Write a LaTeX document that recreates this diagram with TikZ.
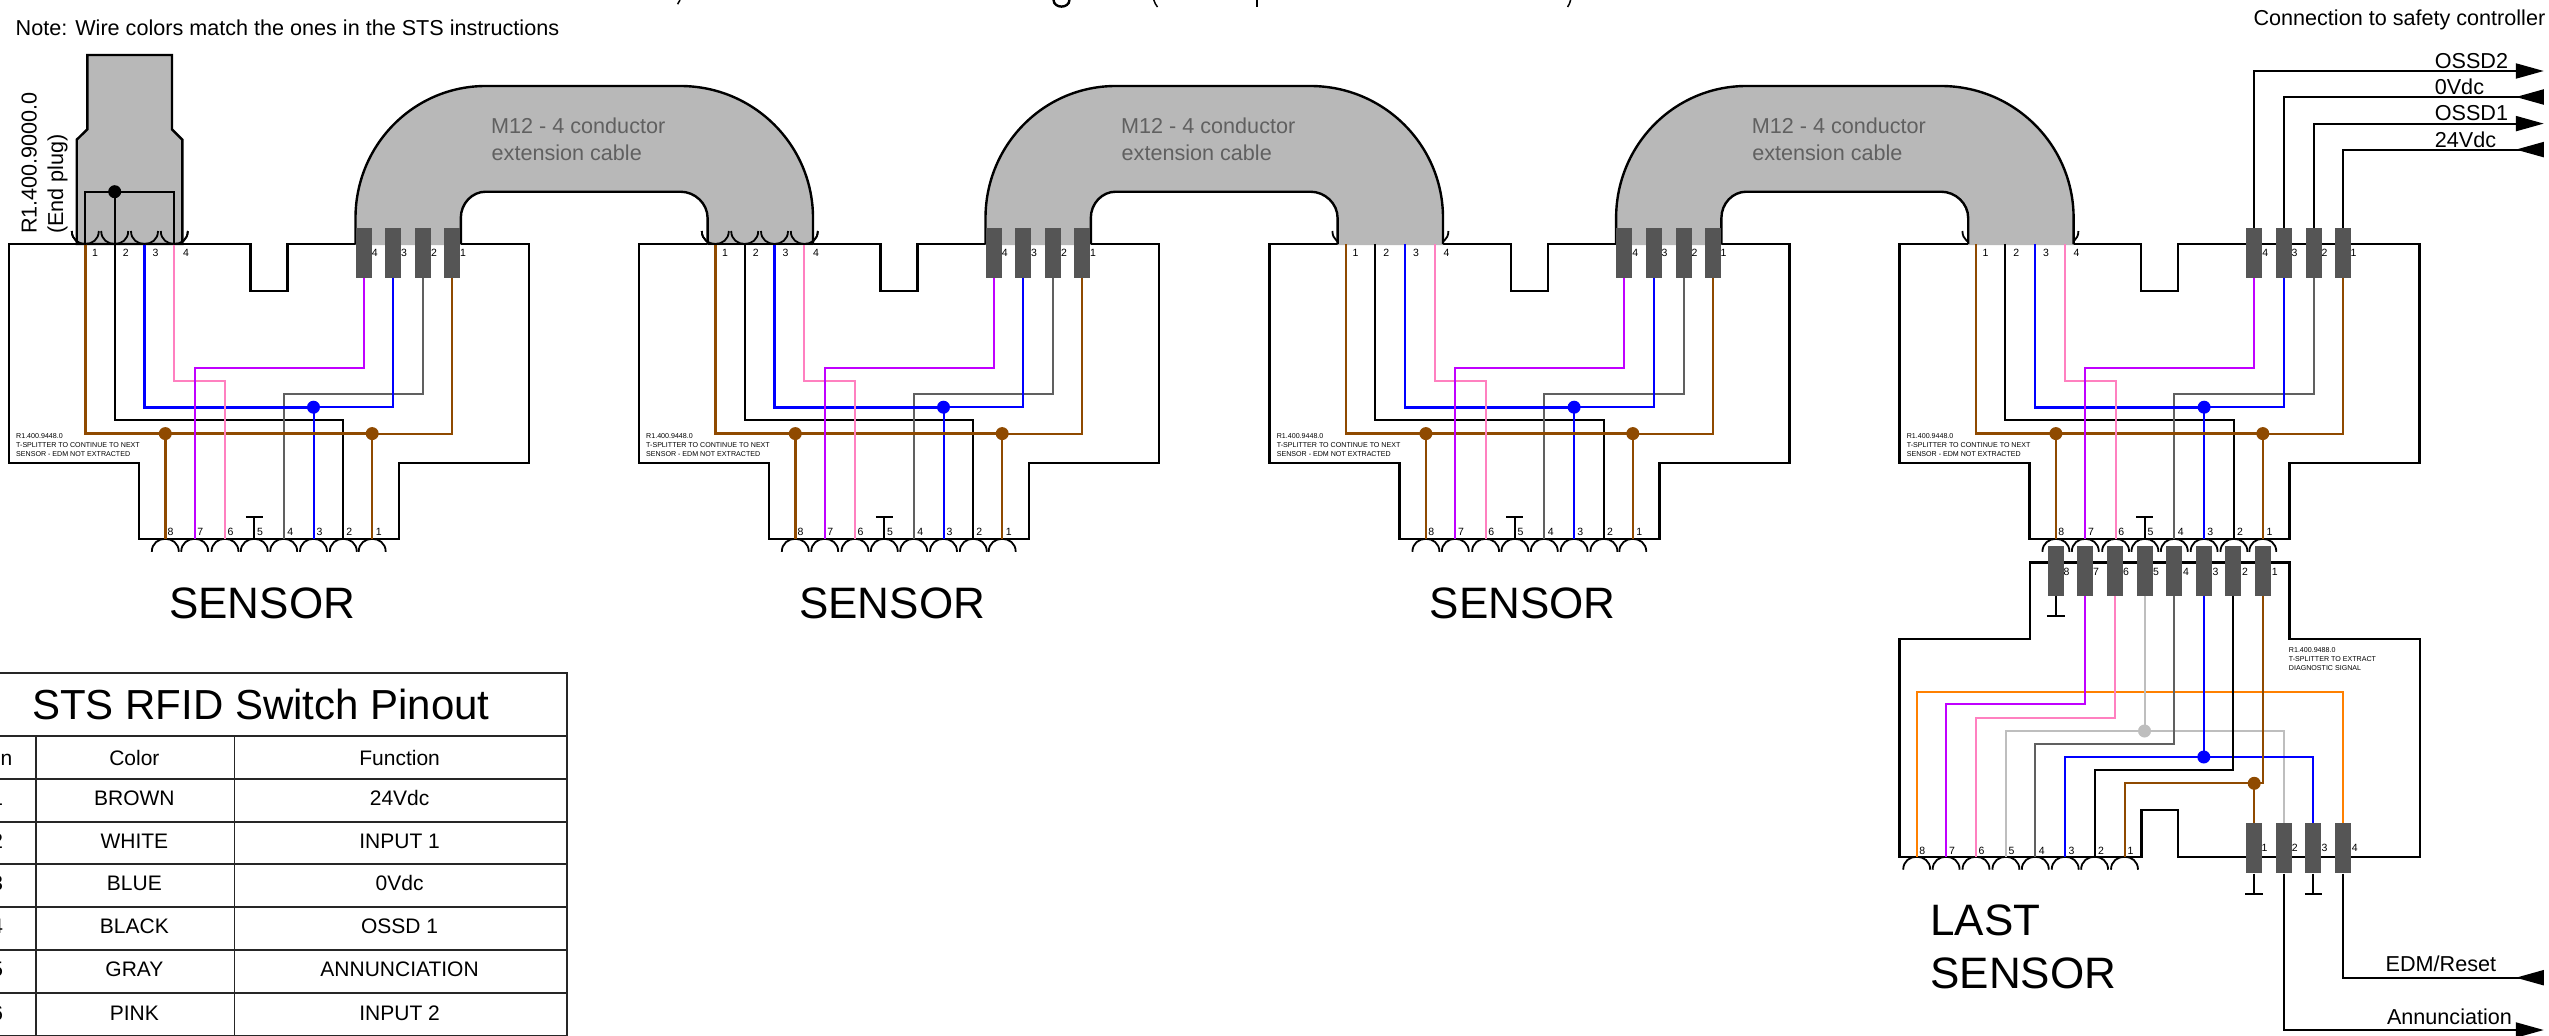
\documentclass[tikz,border=0pt]{standalone}
\usepackage{fontspec}
\setmainfont{Liberation Sans}
\usetikzlibrary{arrows.meta,calc}
\pgfdeclarelayer{bg}
\pgfdeclarelayer{cab}
\pgfsetlayers{bg,cab,main}
\definecolor{cBr}{HTML}{8F4A00}
\definecolor{cBl}{HTML}{0000FF}
\definecolor{cPu}{HTML}{C000FF}
\definecolor{cPk}{HTML}{FF80C0}
\definecolor{cGy}{HTML}{606060}
\definecolor{cLg}{HTML}{BEBEBE}
\definecolor{cOr}{HTML}{FF8000}
\definecolor{cCab}{HTML}{B8B8B8}
\definecolor{cPlug}{HTML}{555555}
\newcommand{\fs}[1]{\fontsize{#1}{#1}\selectfont}
\tikzset{
  outline/.style={draw=black,line width=2.4pt,line join=miter},
  wire/.style={line width=2pt,line join=miter},
  wirethick/.style={line width=2.6pt,line join=miter},
  cup/.style={draw=black,line width=1.8pt},
  plugbox/.style={fill=cPlug,draw=none,inner sep=0pt,minimum width=16pt,minimum height=50pt},
  dot/.style={circle,draw=none,inner sep=0pt,minimum size=13pt},
  pinlab/.style={inner sep=0pt,font=\fs{10.5}},
  bodytext/.style={inner sep=0pt,anchor=base west,font=\fs{21.6}},
  cabletext/.style={bodytext,text=cGy},
  tiny/.style={inner sep=0pt,anchor=west,font=\fs{7.1}},
  bigtext/.style={inner sep=0pt,anchor=base west,font=\fs{44}},
  cell/.style={inner sep=0pt,anchor=base,font=\fs{21}},
  tablerule/.style={line width=1.8pt,draw=black!85},
  sig/.style={line width=2pt,line join=miter},
  outarrow/.style={-{Triangle[length=28pt,width=15pt]}},
  inarrow/.style={-{Triangle[reversed,length=28pt,width=15pt]}}
}
% cups: open downwards / open upwards
\newcommand{\capdown}[1]{\draw[cup,shift={(#1)}] (-13.5,13) .. controls (-13.5,-4.3) and (13.5,-4.3) .. (13.5,13);}
\newcommand{\capup}[1]{\draw[cup,shift={(#1)}] (-13.5,-13) .. controls (-13.5,4.3) and (13.5,4.3) .. (13.5,-13);}
\begin{document}
\begin{tikzpicture}[x=1pt,y=-1pt]
\useasboundingbox (0,0) rectangle (2549,1036);
\clip (0,0) rectangle (2549,1036);

% fragments of the cut-off heading
\draw[line width=1.5pt] (680,0) -- (677.6,4.2);
\draw[line width=2.4pt] (1053.5,0) .. controls (1054,8.8) and (1069,8.8) .. (1069.5,0);
\draw[line width=1.5pt] (1153.8,0) .. controls (1154.5,2.5) and (1155.8,5) .. (1157.5,7);
\draw[line width=2.6pt] (1257,0) -- (1257,7);
\draw[line width=1.5pt] (1570.6,0) .. controls (1570,2.5) and (1569,5) .. (1567.6,7);

\node[bodytext] (note) at (15.5,35) {Note: Wire colors match the ones in the STS instructions};

% four T-splitters
\foreach \i/\xo in {1/0,2/630,3/1260.6,4/1890.6}{
\begin{scope}[shift={(\xo,0)}]
  \coordinate (t1) at (85.3,244);
  \coordinate (t2) at (114.7,244);
  \coordinate (t3) at (144.5,244);
  \coordinate (t4) at (174.3,244);
  \coordinate (s8) at (165.3,538.8);
  \coordinate (s7) at (194.7,538.8);
  \coordinate (s6) at (225,538.8);
  \coordinate (s5) at (254.3,538.8);
  \coordinate (s4) at (283.7,538.8);
  \coordinate (s3) at (313.5,538.8);
  \coordinate (s2) at (343.3,538.8);
  \coordinate (s1) at (372.2,538.8);
  \coordinate (lvP) at (0,367.8);
  \coordinate (lvK) at (0,380.8);
  \coordinate (lvG) at (0,393.8);
  \coordinate (lvB) at (0,407.2);
  \coordinate (lvA) at (0,420.2);
  \coordinate (lvR) at (0,433.6);
  \begin{pgfonlayer}{bg}
    \draw[outline] (9,244) -- (250.6,244) -- (250.6,291.2) -- (287.3,291.2) -- (287.3,244) -- (529,244)
      -- (529,462.7) -- (399,462.7) -- (399,538.8) -- (139,538.8) -- (139,462.7) -- (9,462.7) -- cycle;
    \capup{t1}\capup{t2}\capup{t3}\capup{t4}
    \capdown{s8}\capdown{s7}\capdown{s6}\capdown{s5}\capdown{s4}\capdown{s3}\capdown{s2}\capdown{s1}
  \end{pgfonlayer}
  \node[plugbox] (a4\i) at (363.7,253) {};
  \node[plugbox] (a3\i) at (393,253) {};
  \node[plugbox] (a2\i) at (423,253) {};
  \node[plugbox] (a1\i) at (452,253) {};
  \node[dot,fill=cBr] (dR\i) at (s8 |- lvR) {};
  \node[dot,fill=cBr] (dS\i) at (s1 |- lvR) {};
  \node[dot,fill=cBl] (dB\i) at (s3 |- lvB) {};
  \draw[wire,draw=black] (t2) |- (s2 |- lvA) -- (s2);
  \draw[wire,draw=cGy] (a2\i.south) |- (s4 |- lvG) -- (s4);
  \draw[wirethick,draw=cBl] (t3) |- (dB\i.center);
  \draw[wire,draw=cBl] (dB\i.center) -| (a3\i.south);
  \draw[wire,draw=cBl] (dB\i.center) -- (s3);
  \draw[wirethick,draw=cBr] (t1) |- (dR\i.center) -- (dS\i.center);
  \draw[wire,draw=cBr] (dS\i.center) -| (a1\i.south);
  \draw[wirethick,draw=cBr] (dR\i.center) -- (s8);
  \draw[wire,draw=cBr] (dS\i.center) -- (s1);
  \draw[wire,draw=cPk] (t4) |- (s6 |- lvK) -- (s6);
  \draw[wire,draw=cPu] (a4\i.south) |- (s7 |- lvP) -- (s7);
  \coordinate (tt) at ($(s5)+(0,-21.4)$);
  \draw[line width=1.8pt] (s5) -- (tt);
  \draw[line width=2pt] ($(tt)+(-8.5,0)$) -- ($(tt)+(8.5,0)$);
  \foreach \n/\x in {1/95,2/125.7,3/155.5,4/186}{\node[pinlab] (tl\i\n) at (\x,252.6) {\n};}
  \foreach \n/\x in {4/374.7,3/404,2/434,1/463}{\node[pinlab] (rl\i\n) at (\x,252.6) {\n};}
  \foreach \n/\x in {8/170.6,7/200.4,6/230.6,5/260,4/290.2,3/319.6,2/349.4,1/378.8}{\node[pinlab] (bl\i\n) at (\x,531.6) {\n};}
  \node[tiny] (ta\i) at (16,436) {R1.400.9448.0};
  \node[tiny] (tb\i) at (16,445.3) {T-SPLITTER TO CONTINUE TO NEXT};
  \node[tiny] (tc\i) at (16,454.4) {SENSOR - EDM NOT EXTRACTED};
\end{scope}
}
\node[bigtext] (sn1) at (169,618) {SENSOR};
\node[bigtext] (sn2) at (799,618) {SENSOR};
\node[bigtext] (sn3) at (1429.6,618) {SENSOR};

% extension cables
\foreach \i/\xo in {1/0,2/630,3/1260.6}{
\begin{scope}[shift={(\xo,0)}]
  \begin{pgfonlayer}{cab}
    \fill[cCab] (355.5,245.2) -- (355.5,218) .. controls (355.5,145) and (413.7,86) .. (485.7,86) -- (680.4,86)
       .. controls (753.7,86) and (813,145) .. (813,218) -- (813,245.2) -- (707.6,245.2) -- (707.6,218)
       .. controls (707.6,203.5) and (695,191.7) .. (680.4,191.7) -- (485.7,191.7)
       .. controls (472,191.7) and (460.8,203.5) .. (460.8,218) -- (460.8,245.2) -- cycle;
    \draw[outline] (355.5,244) -- (355.5,218) .. controls (355.5,145) and (413.7,86) .. (485.7,86) -- (680.4,86)
       .. controls (753.7,86) and (813,145) .. (813,218) -- (813,244);
    \draw[outline] (460.8,244) -- (460.8,218) .. controls (460.8,203.5) and (472,191.7) .. (485.7,191.7)
       -- (680.4,191.7) .. controls (695,191.7) and (707.6,203.5) .. (707.6,218) -- (707.6,244);
  \end{pgfonlayer}
  \node[cabletext] (ca\i) at (491,133.3) {M12 - 4 conductor};
  \node[cabletext] (cb\i) at (491.5,160) {extension cable};
\end{scope}
}
% first cable end is shown with its contacts
\coordinate (ce1) at (715.3,244);
\coordinate (ce2) at (744.7,244);
\coordinate (ce3) at (774.5,244);
\coordinate (ce4) at (804.3,244);
\draw[outline] (707.6,244) -- (813,244);
\capup{ce1}\capup{ce2}\capup{ce3}\capup{ce4}

% end plug
\begin{pgfonlayer}{cab}
  \draw[outline,fill=cCab] (87.3,55) -- (172,55) -- (172,129.4) -- (182.4,139.7) -- (182.4,244) -- (76.7,244) -- (76.7,139.7) -- (87.3,129.4) -- cycle;
\end{pgfonlayer}
\coordinate (e1) at (85.3,244);
\coordinate (e2) at (114.7,244);
\coordinate (e3) at (144.5,244);
\coordinate (e4) at (174.3,244);
\node[dot,fill=black] (ed) at (114.7,191.7) {};
\draw[wire] (e1) |- (ed.center) -| (e4);
\draw[wire] (ed.center) -- (e2);
\capup{e1}\capup{e2}\capup{e3}\capup{e4}
\node[inner sep=0pt,anchor=base west,rotate=90,font=\fs{21.6}] (pn) at (36.5,234) {R1.400.9000.0};
\node[inner sep=0pt,anchor=base west,rotate=90,font=\fs{21.6}] (pm) at (63,234) {(End plug)};

% connection to safety controller
\node[bodytext] (cn) at (2253.3,25.7) {Connection to safety controller};
\coordinate (ar1) at (2543.8,71);
\coordinate (ar2) at (2543.8,97);
\coordinate (ar3) at (2543.8,123.6);
\coordinate (ar4) at (2543.8,149.6);
\draw[sig,outarrow] (a44.north) |- (ar1);
\draw[sig,inarrow] (a34.north) |- (ar2);
\draw[sig,outarrow] (a24.north) |- (ar3);
\draw[sig,inarrow] (a14.north) |- (ar4);
\node[bodytext] (o2) at (2434.6,68.4) {OSSD2};
\node[bodytext] (o0) at (2434.6,94.6) {0Vdc};
\node[bodytext] (o1) at (2434.6,120.7) {OSSD1};
\node[bodytext] (o24) at (2434.6,147) {24Vdc};

% diagnostic T-splitter
\begin{pgfonlayer}{bg}
  \draw[outline] (2029.7,562.3) -- (2289.6,562.3) -- (2289.6,638.7) -- (2419.7,638.7) -- (2419.7,856.7)
     -- (2177.8,856.7) -- (2177.8,810) -- (2141.5,810) -- (2141.5,856.7) -- (1899.6,856.7) -- (1899.6,638.7) -- (2029.7,638.7) -- cycle;
\end{pgfonlayer}
\foreach \n/\x in {8/2055.8,7/2085.2,6/2115,5/2144.5,4/2174.4,3/2203.8,2/2233.2,1/2263.1}{
  \node[plugbox] (u\n) at (\x,570.5) {};
}
\foreach \n/\x in {8/2066.4,7/2096,6/2126,5/2156,4/2186,3/2215.5,2/2245,1/2274.7}{
  \node[pinlab] (ul\n) at (\x,571.7) {\n};
}
\foreach \n/\x in {1/2254.2,2/2284,3/2313.4,4/2342.9}{
  \node[plugbox] (w\n) at (\x,848.3) {};
}
\foreach \n/\x in {1/2264.4,2/2294.7,3/2324.5,4/2354.8}{
  \node[pinlab] (wl\n) at (\x,848.3) {\n};
}
\foreach \n/\x in {8/1916.7,7/1946.1,6/1976,5/2005.9,4/2035.3,3/2065.2,2/2094.6,1/2124.5}{
  \coordinate (v\n) at (\x,856.7);
  \begin{pgfonlayer}{bg}
    \capdown{v\n}
  \end{pgfonlayer}
}
\foreach \n/\x in {8/1922.2,7/1952,6/1981.5,5/2011.4,4/2041.7,3/2071.6,2/2101,1/2130.4}{
  \node[pinlab] (vl\n) at (\x,850.7) {\n};
}
\coordinate (lv8) at (0,691.7);
\coordinate (lv7) at (0,704.3);
\coordinate (lv6) at (0,717.7);
\coordinate (lv5) at (0,731);
\coordinate (lv4) at (0,744);
\coordinate (lv3) at (0,757);
\coordinate (lv2) at (0,770);
\coordinate (lv1) at (0,783.3);
\node[dot,fill=cLg] (dL) at (u5 |- lv5) {};
\node[dot,fill=cBl] (dU) at (u3 |- lv3) {};
\node[dot,fill=cBr] (dV) at (w1 |- lv1) {};
\draw[wire,draw=cOr] (v8) |- (w4.north |- lv8) -- (w4.north);
\draw[wire,draw=cPu] (u7.south) |- (v7 |- lv7) -- (v7);
\draw[wire,draw=cPk] (u6.south) |- (v6 |- lv6) -- (v6);
\draw[wire,draw=cLg] (u5.south) -- (dL.center);
\draw[wire,draw=cLg] (dL.center) -| (v5);
\draw[wire,draw=cLg] (dL.center) -| (w2.north);
\draw[wire,draw=cGy] (u4.south) |- (v4 |- lv4) -- (v4);
\draw[wire,draw=cBl] (u3.south) -- (dU.center);
\draw[wire,draw=cBl] (dU.center) -| (v3);
\draw[wire,draw=cBl] (dU.center) -| (w3.north);
\draw[wire,draw=black] (u2.south) |- (v2 |- lv2) -- (v2);
\draw[wire,draw=cBr] (u1.south) |- (dV.center);
\draw[wire,draw=cBr] (dV.center) -| (v1);
\draw[wire,draw=cBr] (dV.center) -- (w1.north);
% grounded ends
\coordinate (g8) at (2055.8,616);
\coordinate (g1) at (2254.2,893.7);
\coordinate (g3) at (2313.4,893.7);
\draw[line width=2pt] (u8.south) -- (g8);
\draw[line width=2pt] ($(g8)+(-9,0)$) -- ($(g8)+(9,0)$);
\draw[line width=2pt] (w1.south) -- (g1);
\draw[line width=2pt] ($(g1)+(-9,0)$) -- ($(g1)+(9,0)$);
\draw[line width=2pt] (w3.south) -- (g3);
\draw[line width=2pt] ($(g3)+(-8.5,0)$) -- ($(g3)+(8.5,0)$);
\coordinate (ar5) at (2543.8,977.7);
\coordinate (ar6) at (2543.8,1030);
\draw[sig,inarrow] (w4.south) |- (ar5);
\draw[sig,outarrow] (w2.south) |- (ar6);
\node[bodytext] (edm) at (2385.5,971.7) {EDM/Reset};
\node[bodytext] (ann) at (2386.8,1024) {Annunciation};
\node[tiny] (xa) at (2288.7,650.3) {R1.400.9488.0};
\node[tiny] (xb) at (2288.7,659.3) {T-SPLITTER TO EXTRACT};
\node[tiny] (xc) at (2288.7,668.3) {DIAGNOSTIC SIGNAL};
\node[bigtext] (la) at (1930.3,935) {LAST};
\node[bigtext] (lb) at (1930.3,988.3) {SENSOR};

% pinout table
\draw[tablerule] (-41.6,673.3) rectangle (566.8,1035.4);
\foreach \y in {736,779,822,864.3,907.3,950,993}{\draw[tablerule] (-41.6,\y) -- (566.8,\y);}
\draw[tablerule] (36,736) -- (36,1035.4);
\draw[tablerule] (234.4,736) -- (234.4,1035.4);
\node[inner sep=0pt,anchor=base,font=\fs{42}] (tt0) at (260.9,719.3) {STS RFID Switch Pinout};
\foreach \n/\y/\p/\c/\f in {h/765/Pin/Color/Function,a/805.7/1/BROWN/24Vdc,b/848/2/WHITE/INPUT 1,c/890.7/3/BLUE/0Vdc,d/933.7/4/BLACK/OSSD 1,e/976.7/5/GRAY/ANNUNCIATION,f/1020/6/PINK/INPUT 2}{
  \node[cell] (tp\n) at (-2.8,\y) {\p};
  \node[cell] (tc\n) at (134.4,\y) {\c};
  \node[cell] (tf\n) at (399.6,\y) {\f};
}
\end{tikzpicture}
\end{document}
